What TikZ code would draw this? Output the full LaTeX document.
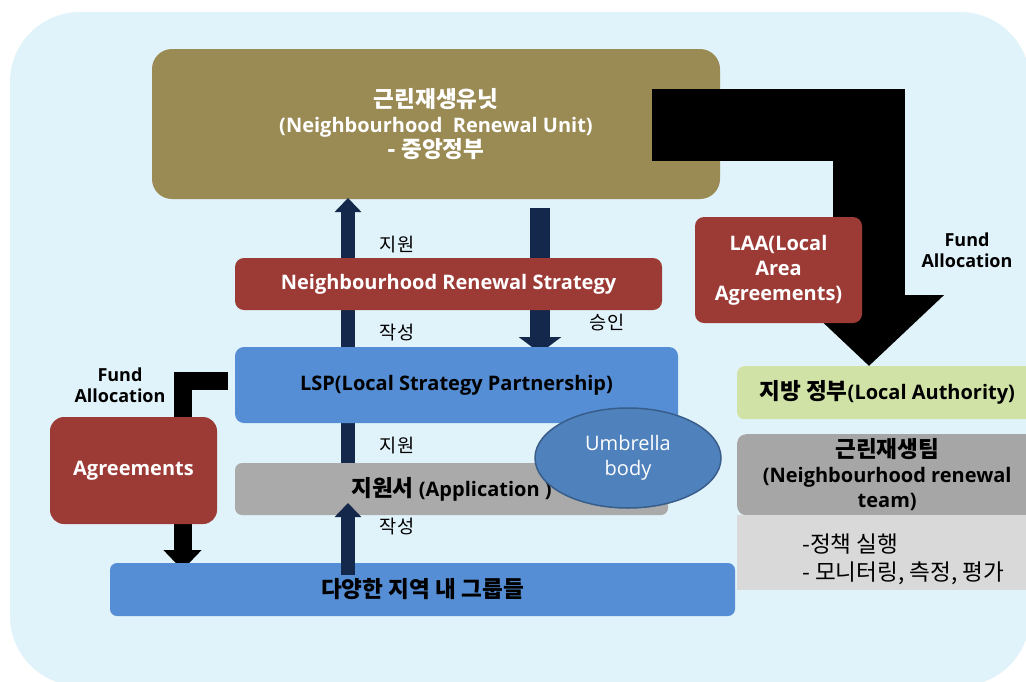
\documentclass[tikz,border=0pt]{standalone}
\usepackage{fontspec}
\setmainfont{Open Sans}
\newfontfamily\kr{Noto Sans CJK KR}[Scale=1.13]
\usetikzlibrary{arrows.meta,calc,shapes.geometric}

\definecolor{bgblue}{HTML}{E1F3FA}
\definecolor{olive}{HTML}{9A8A54}
\definecolor{brick}{HTML}{9C3A36}
\definecolor{lspblue}{HTML}{558ED5}
\definecolor{navy}{HTML}{13284A}
\definecolor{midgray}{HTML}{A6A6A6}
\definecolor{lightgray}{HTML}{D9D9D9}
\definecolor{paleGreen}{HTML}{D1E2A6}
\definecolor{ellblue}{HTML}{4F81BD}
\definecolor{ellborder}{HTML}{385D8A}

\tikzset{
  box/.style={rounded corners=9pt, inner sep=0pt, align=center,
    font=\fontsize{20}{25}\selectfont\bfseries},
  redbox/.style={box, fill=brick, text=white},
  bluebox/.style={box, fill=lspblue, text=black},
  graybox/.style={box, fill=midgray, text=black},
  note/.style={font=\fontsize{16.5}{20}\selectfont\kr, text=black, align=center, inner sep=0pt},
  fundnote/.style={font=\fontsize{18}{21}\selectfont\bfseries, text=black,
    align=center, inner sep=0pt},
  navyarrow/.style={draw=navy, line width=14pt,
    -{Triangle[width=26pt,length=14pt]}},
}

\begin{document}
\begin{tikzpicture}[x=1pt,y=-1pt]
\useasboundingbox (0,0) rectangle (1026,681);
\clip (0,0) rectangle (1026,681);
\fill[white] (0,0) rectangle (1026,681);
\fill[bgblue, rounded corners=70pt] (10,12) rectangle (1030,686);

% central unit
\node[box, fill=olive, text=white, minimum width=568pt, minimum height=150pt,
  rounded corners=20pt] (unit) at (436,124)
  {{\kr 근린재생유닛}\\(Neighbourhood\ \ Renewal Unit)\\{\kr - 중앙정부}};

% coordinates for the vertical flows
\coordinate (upx) at (348,0);
\coordinate (dnx) at (540,0);

% long upward flow to the unit and the approval arrow (beneath the boxes)
\draw[navyarrow] (upx |- 0,470) -- (upx |- 0,198);
\draw[draw=navy, line width=20pt, -{Triangle[width=42pt,length=16pt]}]
  ($(dnx |- 0,198)+(0,10)$) -- (dnx |- 0,353);

% local authority stream
\node[box, fill=paleGreen, text=black, minimum width=300pt, minimum height=53pt,
  anchor=north west, rounded corners=7pt] (la) at (737,366)
  {{\kr 지방 정부}(Local Authority)};
\draw[line width=72pt, miter limit=10, -{Triangle[width=146pt,length=71pt]}]
  ($(unit.east)+(-68,0.5)$) -| (la.north -| 869,0);

\node[redbox, minimum width=167pt, minimum height=106pt] (laa) at (778.5,270)
  {LAA(Local\\Area\\Agreements)};
\node[fundnote] (fundR) at (967,250) {Fund\\Allocation};

\node[graybox, minimum width=300pt, minimum height=81pt, anchor=north west,
  rounded corners=9pt] (team) at (737,434)
  {{\kr 근린재생팀}\\(Neighbourhood renewal\\team)};
\node[box, fill=lightgray, minimum width=300pt, minimum height=75pt,
  anchor=north west, rounded corners=0pt] (tasks) at (737,515) {};
\node[font=\fontsize{20}{28}\selectfont\kr, align=left, anchor=west, inner sep=0pt]
  (tasktxt) at (802,559) {-정책 실행\\- 모니터링, 측정, 평가};

% strategy and partnership
\node[redbox, minimum width=427pt, minimum height=52pt] (nrs) at (448.5,284)
  {Neighbourhood Renewal Strategy};
\node[note] (sup1) at (397,245) {지원};
\node[note] (wr1) at (397,333) {작성};
\node[note] (appr) at (607,323) {승인};

\node[bluebox, minimum width=443pt, minimum height=76pt] (lsp) at (456.5,385)
  {LSP(Local Strategy Partnership)};

% agreements branch
\draw[line width=18pt, -{Triangle[width=37pt,length=20pt]}]
  ($(lsp.west)+(-7,-4)$) -| (182.5,570);
\node[fundnote] (fundL) at (120,385) {Fund\\Allocation};
\node[redbox, minimum width=167pt, minimum height=107pt, rounded corners=14pt]
  (agree) at (133.5,470.5) {Agreements};

% application
\node[graybox, fill=midgray!95!white, minimum width=433pt, minimum height=52pt,
  rounded corners=7pt] (app) at (451.5,489) {{\kr 지원서} (Application )};
\node[note] (sup2) at (397,446) {지원};
\node[note] (wr2) at (397,527) {작성};

\node[ellipse, fill=ellblue, draw=ellborder, line width=1.5pt,
  minimum width=186pt, minimum height=100pt, inner sep=0pt, align=center,
  text=white, font=\fontsize{20}{25}\selectfont] (umb) at (628,458)
  {Umbrella\\body};

% local groups
\node[bluebox, minimum width=625pt, minimum height=53pt, rounded corners=7pt]
  (groups) at (422.5,589.5) {{\kr 다양한 지역 내 그룹들}};
\draw[navyarrow] (upx |- 0,575) -- (upx |- 0,503);
\end{tikzpicture}
\end{document}
